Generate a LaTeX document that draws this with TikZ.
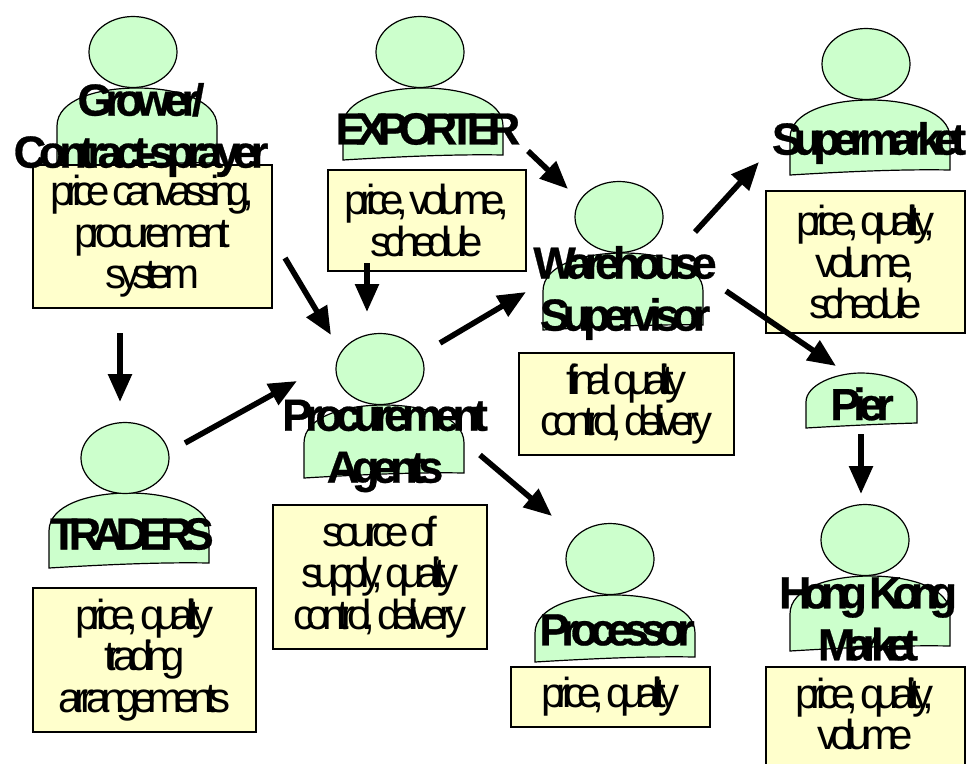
\documentclass[tikz,border=0pt]{standalone}
\usepackage{fontspec}
\setmainfont{Liberation Sans}
\newfontfamily\tightreg[LetterSpace=-19,WordSpace=0.55]{Liberation Sans}
\newfontfamily\tightbold[LetterSpace=-16,WordSpace=0.6,FakeBold=0.6]{Liberation Sans Bold}
\newfontfamily\capsbold[LetterSpace=-20,WordSpace=0.6,FakeBold=0.6]{Liberation Sans Bold}
\newfontfamily\midbold[LetterSpace=-18,WordSpace=0.6,FakeBold=0.6]{Liberation Sans Bold}
\usetikzlibrary{arrows.meta,shapes.geometric}
\definecolor{persongreen}{RGB}{204,255,204}
\definecolor{boxyellow}{RGB}{255,255,204}
\tikzset{
  x=1pt,y=-1pt,
  headshape/.style={ellipse,draw=black,fill=persongreen,line width=1.2pt,minimum width=88pt,minimum height=71pt,inner sep=0pt},
  bodyshape/.style={draw=black,fill=persongreen,line width=1.2pt},
  infobox/.style={rectangle,draw=black,fill=boxyellow,line width=1.2pt,inner sep=0pt,align=center,font=\fontsize{42}{41.5}\selectfont\tightreg},
  infotext/.style={inner sep=0pt,align=center,font=\fontsize{42}{41.5}\selectfont\tightreg},
  namelabel/.style={inner sep=0pt,align=center,font=\fontsize{45}{52}\selectfont\tightbold},
  flow/.style={line width=5.6pt,-{Triangle[length=28pt,width=23pt]}}
}
% left, top, bottom
\newcommand{\torso}[3]{%
  \path[bodyshape] (#1,#3+5) -- (#1,#2+38) .. controls (#1,#2+12) and (#1+40,#2) .. (#1+80,#2)
    .. controls (#1+120,#2) and (#1+160,#2+12) .. (#1+160,#2+38) -- (#1+160,#3)
    .. controls (#1+110,#3-1) and (#1+50,#3+2) .. (#1,#3+5) -- cycle;}
% name, x1, y1, x2, y2, text
\newcommand{\infoblock}[6]{%
  \node[infobox,minimum width=#4-#2,minimum height=#5-#3] (#1) at ({(#2+#4)/2},{(#3+#5)/2}) {#6};}
\begin{document}
\begin{tikzpicture}
\useasboundingbox (0,0) rectangle (968,763);
\clip (0,0) rectangle (968,763);
% torsos
\torso{57}{88}{163}
\torso{343}{88}{155}
\torso{790}{100}{170}
\torso{543}{253}{325}
\torso{304}{405}{473}
\torso{49}{493}{563}
\torso{535}{595}{657}
\torso{790}{576}{646}
\path[bodyshape] (806,428) -- (806,402) .. controls (806,385) and (835,373) .. (861,373)
  .. controls (890,373) and (917,385) .. (917,402) -- (917,423) .. controls (880,424) and (840,426) .. (806,428) -- cycle;
% heads
\node[headshape] (growerhead) at (133,52) {};
\node[headshape] (exporterhead) at (420,52) {};
\node[headshape] (superhead) at (866,64) {};
\node[headshape] (warehead) at (619,217) {};
\node[headshape] (procurehead) at (380,369) {};
\node[headshape] (tradershead) at (125,458) {};
\node[headshape] (processorhead) at (610,559) {};
\node[headshape] (hkhead) at (865,540) {};
% boxes
\infoblock{growerbox}{33}{165}{272}{308}{price canvassing,\\procurement\\system}
\infoblock{exporterbox}{328}{170}{526}{271}{price, volume,\\schedule}
\infoblock{superbox}{766}{191}{965}{333}{price, quality,\\volume,\\schedule}
\infoblock{warebox}{519}{353}{734}{455}{final quality\\control, delivery}
\infoblock{procurebox}{273}{505}{487}{649}{source of\\supply, quality\\control, delivery}
\infoblock{tradersbox}{33}{588}{256}{732}{price, quality\\trading\\arrangements}
\infoblock{processorbox}{511}{667}{710}{727}{price, quality}
\infoblock{hkbox}{766}{667}{965}{790}{}
\node[infotext] (hktext) at (865,714) {price, quality,\\volume};
% labels
\node[namelabel] (grower) at (141,130) {Grower/\\{\fontsize{45}{52}\selectfont Contract-sprayer}};
\node[namelabel,font=\fontsize{45}{52}\selectfont\capsbold] (exporter) at (428,129) {EXPORTER};
\node[namelabel,font=\fontsize{45}{52}\selectfont\midbold] (supermarket) at (869,143) {Supermarket};
\node[namelabel] (warehouse) at (625,293) {Warehouse\\Supervisor};
\node[namelabel] (procurement) at (385,446) {Procurement\\Agents};
\node[namelabel,font=\fontsize{45}{52}\selectfont\capsbold] (traders) at (132,534) {TRADERS};
\node[namelabel,font=\fontsize{45}{52}\selectfont\midbold] (processor) at (617,630) {Processor};
\node[namelabel] (pier) at (862,404) {Pier};
\node[namelabel,font=\fontsize{45}{52}\selectfont\capsbold] (hongkong) at (868,619) {Hong Kong\\Market};
% connector ends
\coordinate (a1s) at (120,333); \coordinate (a1e) at (120,402);
\coordinate (a2s) at (285,258); \coordinate (a2e) at (331,335);
\coordinate (a3s) at (367,263); \coordinate (a3e) at (367,312);
\coordinate (a4s) at (185,443); \coordinate (a4e) at (297,381);
\coordinate (a5s) at (440,343); \coordinate (a5e) at (526,292);
\coordinate (a6s) at (528,151); \coordinate (a6e) at (568,189);
\coordinate (a7s) at (695,232); \coordinate (a7e) at (759,162);
\coordinate (a8s) at (726,291); \coordinate (a8e) at (836,366);
\coordinate (a9s) at (480,455); \coordinate (a9e) at (552,516);
\coordinate (a10s) at (861,434); \coordinate (a10e) at (861,494);
\draw[flow] (a1s) -- (a1e);
\draw[flow] (a2s) -- (a2e);
\draw[flow] (a3s) -- (a3e);
\draw[flow] (a4s) -- (a4e);
\draw[flow] (a5s) -- (a5e);
\draw[flow] (a6s) -- (a6e);
\draw[flow] (a7s) -- (a7e);
\draw[flow] (a8s) -- (a8e);
\draw[flow] (a9s) -- (a9e);
\draw[flow] (a10s) -- (a10e);
\end{tikzpicture}
\end{document}
